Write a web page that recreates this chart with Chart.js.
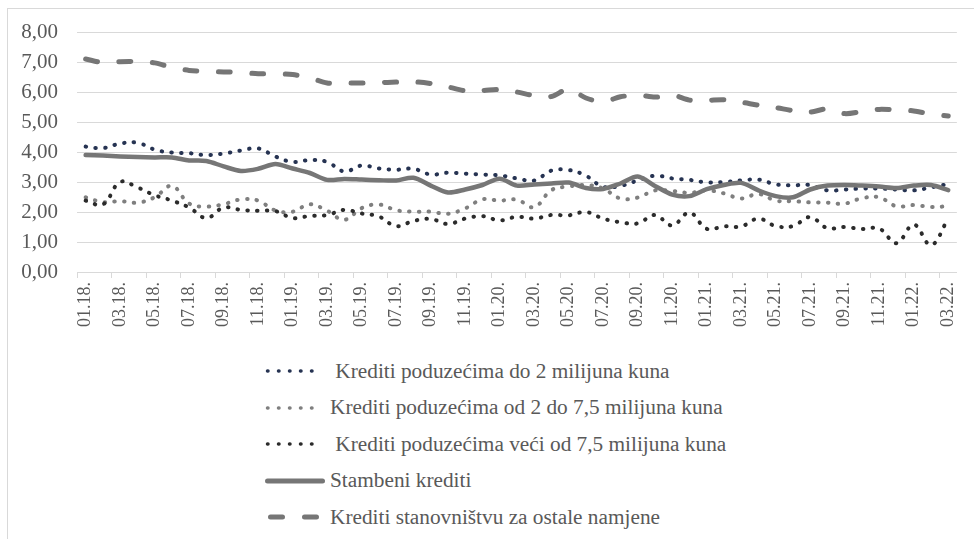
<!DOCTYPE html>
<html>
<head>
<meta charset="utf-8">
<script src="https://cdn.jsdelivr.net/npm/chart.js@4.4.1/dist/chart.umd.min.js"></script>
<style>
  html, body { margin: 0; padding: 0; background: #fff; }
  body { width: 974px; height: 539px; position: relative; overflow: hidden; font-family: "Liberation Serif", "Times New Roman", serif; }
  #frame { position: absolute; left: 7px; top: 8px; width: 1000px; height: 600px; border: 1px solid #d9d9d9; box-sizing: border-box; }
  #wrap { position: absolute; left: 0; top: 0; width: 974px; height: 340px; }
  #legend { position: absolute; left: 265px; top: 353px; color: #595959; font-size: 21.3px; }
  .item { display: flex; align-items: center; height: 36.5px; white-space: pre; }
  .item svg { width: 60px; height: 10px; margin-right: 5px; flex: none; }
</style>
</head>
<body>
<div id="frame"></div>
<div id="wrap"><canvas id="chart" width="974" height="340"></canvas></div>
<div id="legend"></div>
<script>
// mjeseci (01.18. - 03.22.)
const months = [
  '01.18.', '02.18.', '03.18.', '04.18.', '05.18.', '06.18.', '07.18.', '08.18.', '09.18.', '10.18.', '11.18.', '12.18.',
  '01.19.', '02.19.', '03.19.', '04.19.', '05.19.', '06.19.', '07.19.', '08.19.', '09.19.', '10.19.', '11.19.', '12.19.',
  '01.20.', '02.20.', '03.20.', '04.20.', '05.20.', '06.20.', '07.20.', '08.20.', '09.20.', '10.20.', '11.20.', '12.20.',
  '01.21.', '02.21.', '03.21.', '04.21.', '05.21.', '06.21.', '07.21.', '08.21.', '09.21.', '10.21.', '11.21.', '12.21.',
  '01.22.', '02.22.', '03.22.'
];

// kamatne stope, %
const firmsUpTo2m = [
  4.18, 4.13, 4.28, 4.31, 4.08, 3.98, 3.96, 3.90, 3.95, 4.05, 4.12, 3.85,
  3.67, 3.73, 3.67, 3.35, 3.55, 3.45, 3.41, 3.44, 3.25, 3.31, 3.28, 3.25,
  3.22, 3.12, 3.05, 3.38, 3.40, 3.21, 2.84, 2.87, 3.05, 3.21, 3.12, 3.07,
  2.99, 3.00, 3.05, 3.08, 2.92, 2.89, 2.90, 2.72, 2.75, 2.78, 2.78, 2.75,
  2.72, 2.82, 2.93
];
const firms2to75m = [
  2.49, 2.33, 2.36, 2.31, 2.49, 2.87, 2.28, 2.18, 2.26, 2.42, 2.38, 2.05,
  2.01, 2.26, 2.04, 1.74, 2.13, 2.25, 2.06, 2.01, 2.01, 1.94, 2.12, 2.42,
  2.38, 2.41, 2.16, 2.73, 2.85, 2.90, 2.78, 2.45, 2.48, 2.72, 2.70, 2.64,
  2.72, 2.62, 2.45, 2.60, 2.38, 2.36, 2.32, 2.31, 2.28, 2.46, 2.49, 2.19,
  2.23, 2.17, 2.19
];
const firmsOver75m = [
  2.38, 2.25, 3.00, 2.82, 2.56, 2.38, 2.15, 1.80, 2.15, 2.07, 2.04, 2.03,
  1.80, 1.87, 1.90, 2.07, 1.95, 1.85, 1.53, 1.70, 1.77, 1.60, 1.78, 1.86,
  1.72, 1.84, 1.78, 1.90, 1.89, 2.00, 1.78, 1.66, 1.62, 1.90, 1.55, 1.98,
  1.44, 1.52, 1.52, 1.78, 1.53, 1.53, 1.83, 1.46, 1.50, 1.43, 1.45, 0.96,
  1.58, 0.90, 1.78
];
const housingLoans = [
  3.90, 3.88, 3.85, 3.83, 3.82, 3.82, 3.72, 3.70, 3.52, 3.37, 3.44, 3.60,
  3.45, 3.30, 3.07, 3.10, 3.08, 3.06, 3.05, 3.14, 2.88, 2.65, 2.75, 2.90,
  3.11, 2.88, 2.92, 2.95, 2.98, 2.80, 2.77, 2.95, 3.18, 2.87, 2.58, 2.53,
  2.76, 2.90, 2.97, 2.72, 2.53, 2.49, 2.75, 2.88, 2.90, 2.88, 2.85, 2.80,
  2.88, 2.90, 2.73
];
const householdOther = [
  7.10, 6.98, 7.01, 7.01, 6.97, 6.82, 6.72, 6.68, 6.67, 6.65, 6.61, 6.61,
  6.58, 6.47, 6.30, 6.30, 6.30, 6.31, 6.33, 6.34, 6.28, 6.17, 6.04, 6.05,
  6.08, 6.00, 5.88, 5.85, 6.10, 5.80, 5.68, 5.84, 5.90, 5.83, 5.90, 5.73,
  5.72, 5.74, 5.66, 5.56, 5.48, 5.38, 5.33, 5.44, 5.28, 5.35, 5.42, 5.40,
  5.37, 5.26, 5.20
];

const yTicks = [0, 1, 2, 3, 4, 5, 6, 7, 8];

const serif = '"Liberation Serif", "Times New Roman", serif';
const textColor = '#595959';
const gridColor = '#d9d9d9';

const dotted = (label, data, color, order) => ({
  label, data, order,
  borderColor: color, backgroundColor: color,
  borderWidth: 4, borderDash: [0.5, 9.3], borderCapStyle: 'round',
  tension: 0.4, pointRadius: 0, fill: false
});

const datasets = [
  dotted(' Krediti poduzećima do 2 milijuna kuna', firmsUpTo2m, '#263352', 5),
  dotted('Krediti poduzećima od 2 do 7,5 milijuna kuna', firms2to75m, '#7f7f7f', 4),
  dotted(' Krediti poduzećima veći od 7,5 milijuna kuna', firmsOver75m, '#2b2b2b', 3),
  {
    label: 'Stambeni krediti', data: housingLoans, order: 2,
    borderColor: '#767676', backgroundColor: '#767676', borderWidth: 4.5,
    borderCapStyle: 'round', borderJoinStyle: 'round', tension: 0.3, pointRadius: 0, fill: false
  },
  {
    label: 'Krediti stanovništvu za ostale namjene', data: householdOther, order: 1,
    borderColor: '#767676', backgroundColor: '#767676', borderWidth: 5,
    borderDash: [12, 21.5], borderCapStyle: 'round', tension: 0.3, pointRadius: 0, fill: false
  }
];

const chart = new Chart(document.getElementById('chart'), {
  type: 'line',
  data: { labels: months, datasets },
  options: {
    responsive: false,
    animation: false,
    devicePixelRatio: 1,
    layout: { padding: { top: 32, right: 16, left: 0, bottom: 0 } },
    plugins: { legend: { display: false }, tooltip: { enabled: false } },
    scales: {
      x: {
        offset: true,
        grid: {
          offset: true, drawOnChartArea: false, drawTicks: true, tickLength: 6,
          color: c => (c.index !== undefined && c.index % 2 === 0) ? gridColor : 'rgba(0,0,0,0)'
        },
        border: { display: true, color: gridColor },
        ticks: {
          autoSkip: false, minRotation: 90, maxRotation: 90, padding: 4,
          color: textColor, font: { family: serif, size: 18 },
          callback: (v, i) => i % 2 === 0 ? months[i] : ''
        },
        afterFit: s => { s.height = 68; }
      },
      y: {
        min: 0, max: 8,
        afterBuildTicks: s => { s.ticks = yTicks.map(v => ({ value: v })); },
        grid: { color: gridColor, drawTicks: false },
        border: { display: false },
        ticks: {
          padding: 19, color: textColor, font: { family: serif, size: 21 },
          callback: v => Number(v).toFixed(2).replace('.', ',')
        },
        afterFit: s => { s.width = 77; }
      }
    }
  }
});

// legenda ispod grafikona, jedna stavka po retku
const legendDash = { dotted: '0.5 10.5', dashed: '12 22', solid: '' };
const legend = document.getElementById('legend');
chart.data.datasets.forEach(ds => {
  const kind = ds.borderDash ? (ds.borderDash[0] < 1 ? 'dotted' : 'dashed') : 'solid';
  const item = document.createElement('div');
  item.className = 'item';
  const x1 = kind === 'dashed' ? 5.5 : 2.5;
  item.innerHTML = `<svg viewBox="0 0 60 10"><line x1="${x1}" y1="5" x2="57.5" y2="5" stroke="${ds.borderColor}"
    stroke-width="${kind === 'dotted' ? 3.5 : 5}" stroke-linecap="round" stroke-dasharray="${legendDash[kind]}"/></svg><span>${ds.label}</span>`;
  legend.appendChild(item);
});
</script>
</body>
</html>
